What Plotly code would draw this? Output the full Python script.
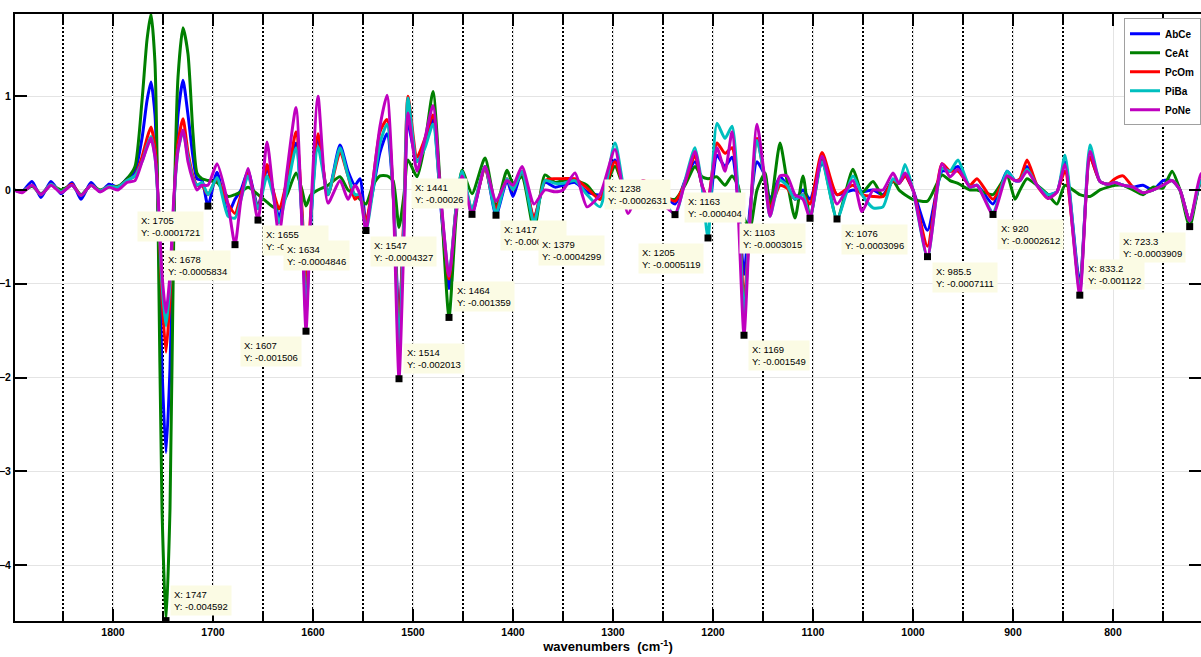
import plotly.graph_objects as go

# Second-derivative FTIR spectra, values in units of 10^-3
wavenumber = [1899, 1891, 1881, 1872, 1862, 1852, 1841, 1832, 1822, 1813, 1804, 1795, 1786, 1778,
              1771, 1766, 1762, 1758, 1755, 1751, 1747, 1743, 1739, 1735, 1730, 1725, 1720, 1716,
              1711, 1705, 1696, 1685, 1678, 1672, 1665, 1655, 1646, 1640, 1634, 1626, 1617, 1611,
              1607, 1602, 1595, 1585, 1573, 1565, 1558, 1553, 1547, 1540, 1533, 1526, 1520, 1514,
              1509, 1505, 1496, 1488, 1480, 1472, 1464, 1457, 1451, 1441, 1428, 1417, 1406, 1400,
              1391, 1379, 1368, 1358, 1350, 1338, 1326, 1313, 1298, 1285, 1270, 1255, 1238, 1228,
              1218, 1211, 1205, 1196, 1188, 1181, 1175, 1169, 1163, 1156, 1148, 1143, 1133, 1126,
              1118, 1110, 1103, 1091, 1076, 1060, 1051, 1040, 1030, 1020, 1014, 1008, 1000, 985.5,
              971, 963, 955, 943, 936, 920, 906, 898, 893, 886, 876, 865, 856, 848, 833.2, 823,
              813, 805, 798, 790, 780, 770, 760, 750, 741, 733, 723.3, 712, 705]

abce = [0, -0.02, 0.09, -0.08, 0.09, -0.04, 0.08, -0.10, 0.08, -0.02, 0.06, 0.03, 0.12, 0.20,
        0.55, 0.95, 1.15, 0.80, -0.20, -1.90, -2.80, -1.90, -0.20, 0.80, 1.17, 0.80, 0.35, 0.12,
        0.10, -0.172, 0.19, -0.25, -0.10, 0.00, 0.20, -0.18, 0.23, 0.00, -0.30, 0.10, 0.50, -0.30,
        -1.30, -0.30, 0.55, -0.05, 0.48, 0.20, 0.05, 0.12, -0.35, 0.00, 0.40, 0.60, 0.00, -1.40,
        -0.30, 0.70, 0.30, 0.50, 0.75, -0.20, -1.05, -0.20, 0.20, -0.26, 0.25, -0.27, 0.10, -0.07,
        0.20, -0.30, 0.08, 0.03, 0.05, 0.08, -0.02, -0.05, 0.32, -0.12, 0.09, 0.00, -0.15, 0.10,
        0.30, 0.05, -0.30, 0.37, 0.25, 0.35, -0.10, -0.90, -0.20, 0.30, 0.15, -0.10, 0.14, 0.05,
        -0.10, 0.00, -0.10, 0.28, -0.05, 0.00, -0.02, 0.00, -0.05, 0.10, 0.07, 0.15, 0.00, -0.43,
        0.20, 0.20, 0.25, 0.03, 0.05, -0.15, 0.20, 0.10, 0.10, 0.25, 0.05, -0.05, -0.02, 0.30, -1.00, 0.35,
        0.09, 0.06, 0.08, 0.05, 0.03, 0.05, 0.00, 0.10, 0.10, 0.00, -0.33, 0.10, 0.15]

ceat = [0, -0.02, 0.04, -0.04, 0.05, 0.00, 0.05, -0.05, 0.05, 0.00, 0.03, 0.04, 0.12, 0.25,
        0.95, 1.60, 1.876, 1.35, -0.30, -3.40, -4.592, -3.40, -0.30, 1.20, 1.73, 1.45, 0.60, 0.18,
        0.12, 0.10, 0.08, -0.07, -0.05, -0.02, 0.03, -0.05, -0.13, -0.18, -0.20, -0.05, 0.18, 0.00,
        -0.17, -0.05, 0.00, 0.05, 0.14, 0.00, -0.05, -0.10, -0.15, 0.05, 0.15, 0.15, 0.10, -0.40,
        -0.05, 0.32, 0.14, 0.50, 1.05, -0.10, -1.359, -0.30, 0.21, -0.04, 0.34, -0.18, 0.21, 0.07,
        0.14, -0.43, 0.16, 0.08, 0.10, 0.10, 0.05, -0.10, 0.25, -0.07, 0.05, -0.05, -0.10, 0.05,
        0.25, 0.14, 0.12, 0.14, 0.05, 0.15, 0.05, -0.30, -0.404, 0.00, 0.18, -0.20, 0.50, 0.10,
        -0.30, 0.15, -0.30, 0.32, -0.31, 0.22, -0.03, 0.09, -0.07, 0.10, 0.00, -0.05, -0.10, -0.12,
        0.16, 0.10, 0.07, 0.00, 0.00, -0.05, 0.15, -0.10, 0.00, 0.12, 0.05, -0.05, -0.15, 0.05, -0.05, -0.07,
        0.00, 0.03, 0.05, 0.05, 0.00, -0.05, 0.03, 0.02, 0.20, 0.00, -0.391, 0.10, 0.10]

pcom = [0, -0.02, 0.05, -0.05, 0.06, -0.02, 0.06, -0.06, 0.05, -0.01, 0.04, 0.03, 0.10, 0.15,
        0.35, 0.55, 0.67, 0.45, -0.10, -1.15, -1.73, -1.15, -0.10, 0.50, 0.76, 0.40, 0.15, 0.05,
        0.05, -0.05, 0.12, -0.15, -0.25, -0.05, 0.18, -0.20, 0.27, 0.00, -0.20, 0.10, 0.62, -0.20,
        -1.00, -0.20, 0.60, -0.05, 0.40, 0.15, -0.10, -0.05, -0.35, 0.10, 0.62, 0.75, 0.00, -1.50,
        -0.20, 1.00, 0.35, 0.55, 0.80, -0.15, -0.95, -0.20, 0.15, -0.20, 0.22, -0.20, 0.12, 0.00,
        0.20, -0.30, 0.10, 0.12, 0.12, 0.12, 0.02, -0.10, 0.30, -0.10, 0.10, 0.00, -0.12, 0.08,
        0.37, 0.05, -0.10, 0.50, 0.39, 0.45, 0.00, -1.20, -0.30, 0.55, 0.10, -0.20, 0.05, 0.02,
        -0.10, -0.05, -0.15, 0.40, -0.05, 0.05, -0.05, -0.07, -0.07, 0.10, 0.07, 0.15, 0.00, -0.60,
        0.28, 0.20, 0.20, 0.05, 0.12, -0.10, 0.15, 0.10, 0.12, 0.32, 0.05, -0.09, -0.02, 0.20, -1.05, 0.35,
        0.09, 0.06, 0.12, 0.15, 0.03, -0.03, 0.00, 0.05, 0.10, 0.00, -0.33, 0.10, 0.10]

piba = [0, -0.02, 0.05, -0.05, 0.06, -0.02, 0.05, -0.06, 0.05, -0.01, 0.04, 0.03, 0.10, 0.15,
        0.30, 0.47, 0.57, 0.35, -0.10, -1.00, -1.45, -1.00, -0.10, 0.42, 0.62, 0.35, 0.12, 0.05,
        0.08, -0.05, 0.13, -0.28, -0.30, -0.10, 0.15, -0.20, 0.15, -0.05, -0.35, 0.00, 0.45, -0.30,
        -1.35, -0.30, 0.46, -0.05, 0.45, 0.15, -0.05, -0.05, -0.433, 0.00, 0.50, 0.70, 0.00, -1.70,
        -0.30, 0.98, 0.30, 0.45, 0.70, -0.15, -0.90, -0.20, 0.20, -0.20, 0.25, -0.25, 0.12, 0.00,
        0.20, -0.35, 0.10, 0.07, 0.07, 0.10, -0.05, -0.18, 0.50, -0.15, 0.08, -0.05, -0.263, 0.10,
        0.45, 0.05, -0.512, 0.71, 0.55, 0.68, 0.00, -1.35, -0.30, 0.53, 0.10, -0.28, 0.10, 0.05,
        -0.10, -0.05, -0.30, 0.30, -0.31, 0.15, -0.05, -0.19, -0.18, 0.12, 0.07, 0.27, 0.00, -0.72,
        0.23, 0.20, 0.32, 0.03, 0.05, -0.24, 0.20, 0.10, 0.10, 0.22, 0.05, -0.05, -0.02, 0.37, -1.08, 0.48,
        0.09, 0.06, 0.08, 0.05, 0.03, -0.03, 0.00, 0.05, 0.10, 0.00, -0.33, 0.10, 0.10]

pone = [0, -0.03, 0.05, -0.05, 0.05, -0.03, 0.05, -0.06, 0.05, -0.02, 0.03, 0.00, 0.08, 0.10,
        0.30, 0.45, 0.55, 0.35, -0.05, -0.90, -1.31, -0.90, -0.05, 0.42, 0.64, 0.30, 0.10, 0.00,
        0.05, 0.05, 0.28, -0.15, -0.583, -0.10, 0.23, -0.32, 0.51, 0.00, -0.485, 0.20, 0.88, -0.40,
        -1.506, -0.20, 1.00, -0.14, 0.10, -0.10, 0.05, -0.05, -0.43, 0.10, 0.68, 1.01, 0.00, -2.013,
        -0.50, 0.82, 0.20, 0.55, 0.90, -0.10, -0.92, -0.25, 0.15, -0.26, 0.25, -0.12, 0.10, 0.05,
        0.25, -0.15, 0.00, -0.02, 0.00, 0.18, -0.18, -0.05, 0.43, -0.25, 0.10, -0.10, -0.25, 0.08,
        0.41, 0.05, -0.10, 0.45, 0.20, 0.62, -0.20, -1.549, -0.30, 0.70, 0.10, -0.28, 0.15, 0.15,
        -0.05, -0.10, -0.30, 0.36, -0.15, 0.10, -0.23, 0.00, 0.00, 0.18, 0.07, 0.18, 0.00, -0.711,
        0.28, 0.14, 0.22, 0.03, 0.05, -0.261, 0.15, 0.10, 0.10, 0.20, 0.05, -0.09, -0.02, 0.27, -1.122, 0.41,
        0.09, 0.06, 0.08, 0.05, 0.03, -0.03, 0.00, 0.05, 0.10, 0.00, -0.33, 0.17, 0.20]

series_names = ["AbCe", "CeAt", "PcOm", "PiBa", "PoNe"]
series_values = [abce, ceat, pcom, piba, pone]
series_colors = ["#0000ff", "#008000", "#ff0000", "#00bfbf", "#bf00bf"]

# Data cursors: wavenumber, raw second-derivative value, label side
tip_wavenumber = [1747, 1705, 1678, 1655, 1634, 1607, 1547, 1514, 1464, 1441, 1417, 1379,
                  1238, 1205, 1163, 1169, 1103, 1076, 985.5, 920, 833.2, 723.3]
tip_value = [-0.004592, -0.0001721, -0.0005834, -0.0003214, -0.0004846, -0.001506, -0.0004327,
             -0.002013, -0.001359, -0.00026, -0.0002692, -0.0004299, -0.0002631, -0.0005119,
             -0.000404, -0.001549, -0.0003015, -0.0003096, -0.0007111, -0.0002612, -0.001122,
             -0.0003909]
tip_side = ["ra", "lb", "lb", "rb", "rb", "lb", "rb", "ra", "ra", "la", "rb", "rb",
            "la", "lb", "la", "rb", "lb", "rb", "rb", "rb", "ra", "lb"]

AXIS_SCALE = 1e3  # y axis is labelled in units of 10^-3
FONT = "Liberation Sans Narrow, Arial Narrow, Liberation Sans, sans-serif"

fig = go.Figure()

for name, vals, color in zip(series_names, series_values, series_colors):
    fig.add_trace(go.Scatter(
        x=wavenumber, y=vals, mode="lines", name=name,
        line=dict(color=color, width=3, shape="spline", smoothing=0.6),
    ))

fig.add_trace(go.Scatter(
    x=tip_wavenumber, y=[v * AXIS_SCALE for v in tip_value], mode="markers",
    marker=dict(symbol="square", size=7, color="black"),
    showlegend=False, hoverinfo="skip",
))

for wn, val, side in zip(tip_wavenumber, tip_value, tip_side):
    right = side[0] == "r"
    below = side[1] == "b"
    fig.add_annotation(
        x=wn, y=val * AXIS_SCALE, xref="x", yref="y",
        text=f"X: {wn:.4g}<br>Y: {val:.4g}",
        showarrow=False, align="left",
        xanchor="left" if right else "right",
        yanchor="top" if below else "bottom",
        xshift=4 if right else -4,
        yshift=-5 if below else 5,
        bgcolor="#fbfbe4", borderpad=3,
        font=dict(family=FONT, size=9.5, color="black"),
    )

# dotted reference lines every 50 cm-1
for wn in range(750, 1900, 50):
    if wn == 800:
        continue
    fig.add_shape(
        type="line", x0=wn, x1=wn, y0=0, y1=1, xref="x", yref="paper",
        line=dict(color="black", width=2, dash="2px,2px"), layer="between",
    )

tick_font = dict(family=FONT, size=10.5, color="black", weight="bold")

fig.update_layout(
    template="none",
    width=1201, height=657,
    margin=dict(l=15, r=0, t=14, b=36),
    paper_bgcolor="white", plot_bgcolor="white",
    showlegend=True,
    legend=dict(
        x=1.0, y=0.993, xanchor="right", yanchor="top",
        bgcolor="white", bordercolor="#a0a0a0", borderwidth=1,
        font=dict(family=FONT, size=10, color="black", weight="bold"),
        itemwidth=30, tracegroupgap=0,
    ),
    xaxis=dict(
        range=[1898, 712], autorange=False,
        showline=True, linecolor="black", linewidth=2, mirror="ticks",
        ticks="inside", ticklen=12, tickwidth=1.5, tickcolor="black",
        tick0=0, dtick=100,
        minor=dict(dtick=50, tick0=0, ticks="inside", ticklen=9, tickwidth=1.5,
                   tickcolor="black", showgrid=False),
        showgrid=True, gridcolor="#e4e4e4", gridwidth=1,
        zeroline=False, automargin=False,
        tickfont=tick_font,
        title=dict(text="wavenumbers  (cm<sup>-1</sup>)", standoff=5,
                   font=dict(family=FONT, size=13, color="black", weight="bold")),
    ),
    yaxis=dict(
        range=[-4.596, 1.876], autorange=False,
        showline=True, linecolor="black", linewidth=2, mirror="ticks",
        ticks="inside", ticklen=12, tickwidth=1.5, tickcolor="black",
        tick0=0, dtick=1,
        showgrid=True, gridcolor="#e4e4e4", gridwidth=1,
        zeroline=False, automargin=False,
        tickfont=dict(family=FONT, size=10.5, color="black", weight="bold"),
    ),
)

fig.write_html("out.html")
